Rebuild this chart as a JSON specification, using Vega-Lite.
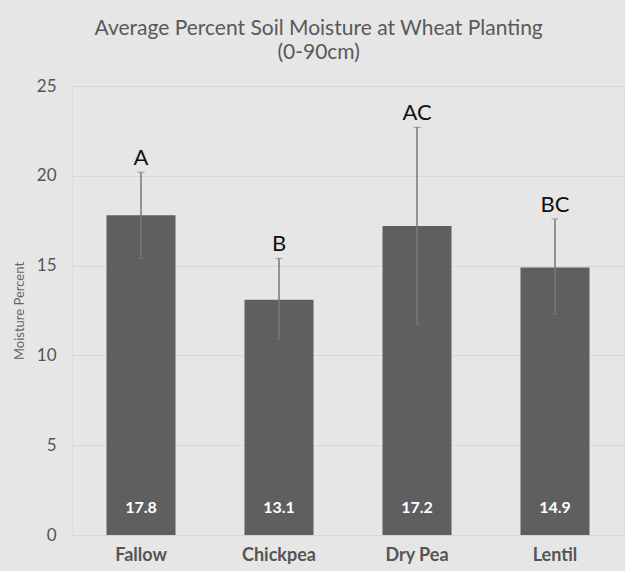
{
  "$schema": "https://vega.github.io/schema/vega-lite/v6.json",
  "autosize": "none",
  "width": 552,
  "height": 449,
  "padding": {"left": 72, "top": 86, "right": 1, "bottom": 36},
  "background": "#e6e6e6",
  "title": {
    "text": ["Average Percent Soil Moisture at Wheat Planting", "(0-90cm)"],
    "anchor": "middle",
    "frame": "bounds",
    "font": "Lato",
    "fontSize": 21,
    "fontWeight": "normal",
    "color": "#595959",
    "lineHeight": 24,
    "offset": 14
  },
  "data": {
    "values": [
      {"crop": "Fallow", "moisture": 17.8, "low": 15.4, "high": 20.2, "group": "A", "label": "17.8"},
      {"crop": "Chickpea", "moisture": 13.1, "low": 10.9, "high": 15.4, "group": "B", "label": "13.1"},
      {"crop": "Dry Pea", "moisture": 17.2, "low": 11.7, "high": 22.7, "group": "AC", "label": "17.2"},
      {"crop": "Lentil", "moisture": 14.9, "low": 12.3, "high": 17.6, "group": "BC", "label": "14.9"}
    ]
  },
  "encoding": {
    "x": {
      "field": "crop",
      "type": "nominal",
      "sort": null,
      "scale": {"paddingInner": 0.5, "paddingOuter": 0.25},
      "axis": {
        "title": null,
        "labelAngle": 0,
        "labelFont": "Lato",
        "labelFontSize": 18,
        "labelFontWeight": "bold",
        "labelColor": "#555555",
        "labelPadding": 11,
        "domain": false,
        "ticks": false
      }
    }
  },
  "layer": [
    {
      "mark": {"type": "bar", "color": "#5f5f5f"},
      "encoding": {
        "y": {
          "field": "moisture",
          "type": "quantitative",
          "title": "Moisture Percent",
          "scale": {"domain": [0, 25], "nice": false},
          "axis": {
            "titleFont": "Lato",
            "titleFontSize": 13,
            "titleFontWeight": "normal",
            "titleColor": "#666666",
            "titlePadding": 10,
            "values": [0, 5, 10, 15, 20, 25],
            "labelFont": "Lato",
            "labelFontSize": 17,
            "labelColor": "#555555",
            "labelPadding": 16,
            "domain": false,
            "ticks": false,
            "gridColor": "#d6d6d6",
            "gridWidth": 1
          }
        }
      }
    },
    {
      "mark": {"type": "errorbar", "ticks": {"size": 7, "color": "#777777", "strokeWidth": 1.5}, "rule": {"color": "#777777", "strokeWidth": 1.5}},
      "encoding": {
        "y": {"field": "low", "type": "quantitative", "title": "Moisture Percent"},
        "y2": {"field": "high"}
      }
    },
    {
      "mark": {"type": "text", "font": "Lato", "fontSize": 22, "color": "#111111", "baseline": "bottom", "dy": -2},
      "encoding": {
        "y": {"field": "high", "type": "quantitative", "title": "Moisture Percent"},
        "text": {"field": "group"}
      }
    },
    {
      "mark": {"type": "text", "font": "Lato", "fontSize": 16, "fontWeight": "bold", "color": "#ffffff", "baseline": "middle"},
      "encoding": {
        "y": {"datum": 1.5, "title": "Moisture Percent"},
        "text": {"field": "label"}
      }
    }
  ]
}
